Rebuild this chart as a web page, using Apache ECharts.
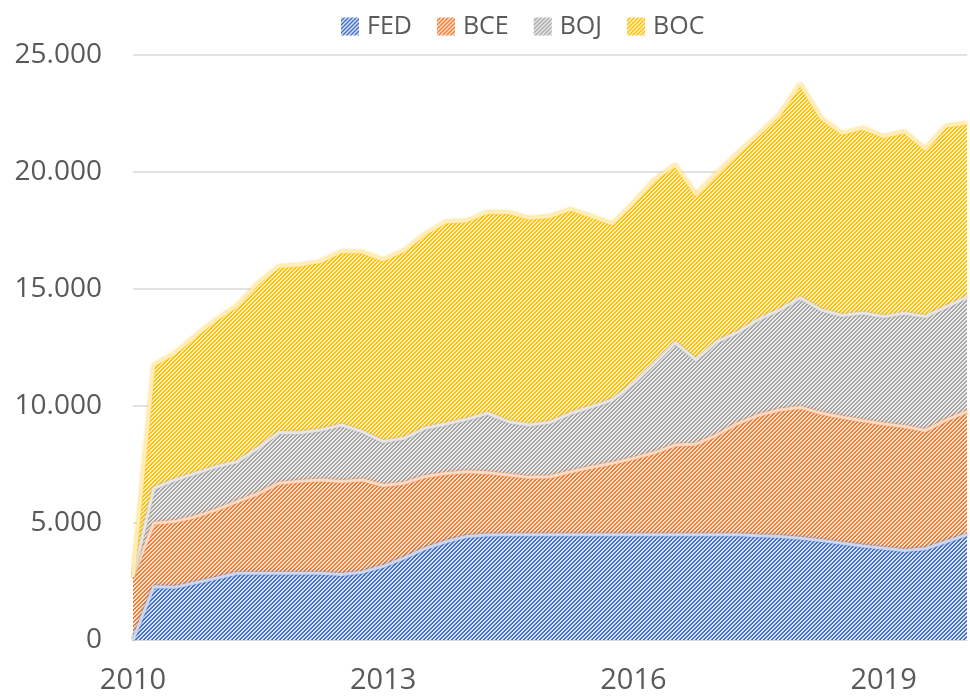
<!DOCTYPE html>
<html><head><meta charset="utf-8">
<script src="https://cdn.jsdelivr.net/npm/echarts@6/dist/echarts.min.js"></script>
<style>html,body{margin:0;padding:0;background:#fff}#c{width:970px;height:696px}</style>
</head><body><div id="c"></div>
<script>
// Quarterly categories 2010 Q1 .. 2020 Q1
const categories = [
  '2010Q1','2010Q2','2010Q3','2010Q4','2011Q1','2011Q2','2011Q3','2011Q4',
  '2012Q1','2012Q2','2012Q3','2012Q4','2013Q1','2013Q2','2013Q3','2013Q4',
  '2014Q1','2014Q2','2014Q3','2014Q4','2015Q1','2015Q2','2015Q3','2015Q4',
  '2016Q1','2016Q2','2016Q3','2016Q4','2017Q1','2017Q2','2017Q3','2017Q4',
  '2018Q1','2018Q2','2018Q3','2018Q4','2019Q1','2019Q2','2019Q3','2019Q4',
  '2020Q1'
];
const xTickLabels = ['2010', '2013', '2016', '2019'];
const yTicks = [0, 5000, 10000, 15000, 20000, 25000];
const seriesNames = ['FED', 'BCE', 'BOJ', 'BOC'];

const fed = [0,2280,2250,2450,2640,2850,2850,2850,2850,2850,2800,2900,3150,3500,3900,4200,
  4420,4490,4500,4500,4500,4500,4500,4500,4500,4500,4500,4500,4500,4500,4450,4420,
  4350,4250,4130,4020,3920,3820,3900,4200,4500];
const bce = [2700,2710,2810,2820,2920,3060,3400,3850,3930,3990,3970,3940,3450,3200,3080,2920,
  2770,2660,2550,2450,2480,2690,2880,3050,3260,3500,3830,3870,4260,4750,5150,5410,
  5590,5440,5390,5350,5310,5300,5050,5200,5260];
const boj = [0,1490,1780,1850,1850,1710,1950,2170,2080,2130,2420,2060,1880,1920,2070,2110,
  2240,2540,2280,2240,2320,2500,2590,2710,3210,3820,4380,3600,3990,3900,4100,4270,
  4680,4410,4350,4600,4590,4840,4870,4840,4890];
const boc = [0,5270,5410,5880,6290,6660,7040,7090,7160,7200,7410,7680,7760,8020,8290,8630,
  8480,8590,8940,8830,8800,8710,8120,7520,7690,7840,7590,7050,7190,7650,7900,8340,
  9140,8200,7780,7900,7690,7760,7150,7730,7430];

const seriesValues = [fed, bce, boj, boc];
const fgColors = ['#4472C4', '#ED7D31', '#A5A5A5', '#FFC000'];
const bgColors = ['#dae3f3', '#fbe5d6', '#ededed', '#fff2cc'];

function makePattern(fg, bg) {
  const c = document.createElement('canvas');
  c.width = 8; c.height = 8;
  const ctx = c.getContext('2d');
  ctx.fillStyle = bg; ctx.fillRect(0, 0, 8, 8);
  ctx.fillStyle = fg;
  for (let y = 0; y < 8; y++) for (let x = 0; x < 8; x++) {
    if (((x + y) % 4) >= 2) ctx.fillRect(x, y, 1, 1);
  }
  return { image: c, repeat: 'repeat' };
}

const chart = echarts.init(document.getElementById('c'), null, { renderer: 'canvas' });
const FONT = "'Open Sans', 'Noto Sans', sans-serif";

const series = seriesNames.map((name, i) => ({
  name: name,
  type: 'line',
  stack: 'total',
  symbol: 'none',
  smooth: false,
  data: seriesValues[i],
  color: fgColors[i],
  lineStyle: { width: 3, color: bgColors[i], opacity: 0.85, shadowBlur: 3, shadowColor: fgColors[i] },
  areaStyle: { color: makePattern(fgColors[i], bgColors[i]), opacity: 1 },
  emphasis: { disabled: true }
}));

chart.setOption({
  animation: false,
  backgroundColor: '#ffffff',
  legend: {
    left: 336, top: 9,
    itemWidth: 18, itemHeight: 18, itemGap: 25,
    icon: 'rect',
    textStyle: { fontFamily: FONT, fontSize: 25, color: '#595959', padding: [0, 0, 0, 3] },
    data: seriesNames.map((n, i) => ({ name: n, itemStyle: { color: makePattern(fgColors[i], bgColors[i]) } }))
  },
  grid: { left: 133, right: -3, top: 55, bottom: 56, containLabel: false },
  xAxis: {
    type: 'category',
    data: categories,
    boundaryGap: false,
    axisLine: { show: true, lineStyle: { color: '#d9d9d9', width: 1 } },
    axisTick: { show: false },
    axisLabel: {
      interval: 0,
      margin: 26,
      fontFamily: FONT, fontSize: 29, color: '#595959',
      formatter: function (v) { const y = v.slice(0, 4); return (v.endsWith('Q1') && xTickLabels.indexOf(y) >= 0) ? y : ''; }
    },
    splitLine: { show: false }
  },
  yAxis: {
    type: 'value',
    min: yTicks[0], max: yTicks[yTicks.length - 1], interval: 5000,
    axisLine: { show: false },
    axisTick: { show: false },
    axisLabel: {
      margin: 31,
      fontFamily: FONT, fontSize: 28, color: '#595959',
      formatter: function (v) { return v === 0 ? '0' : String(v).replace(/\B(?=(\d{3})+(?!\d))/g, '.'); }
    },
    splitLine: { show: true, lineStyle: { color: '#d9d9d9', width: 1.5 } }
  },
  series: series
});
</script>
</body></html>
